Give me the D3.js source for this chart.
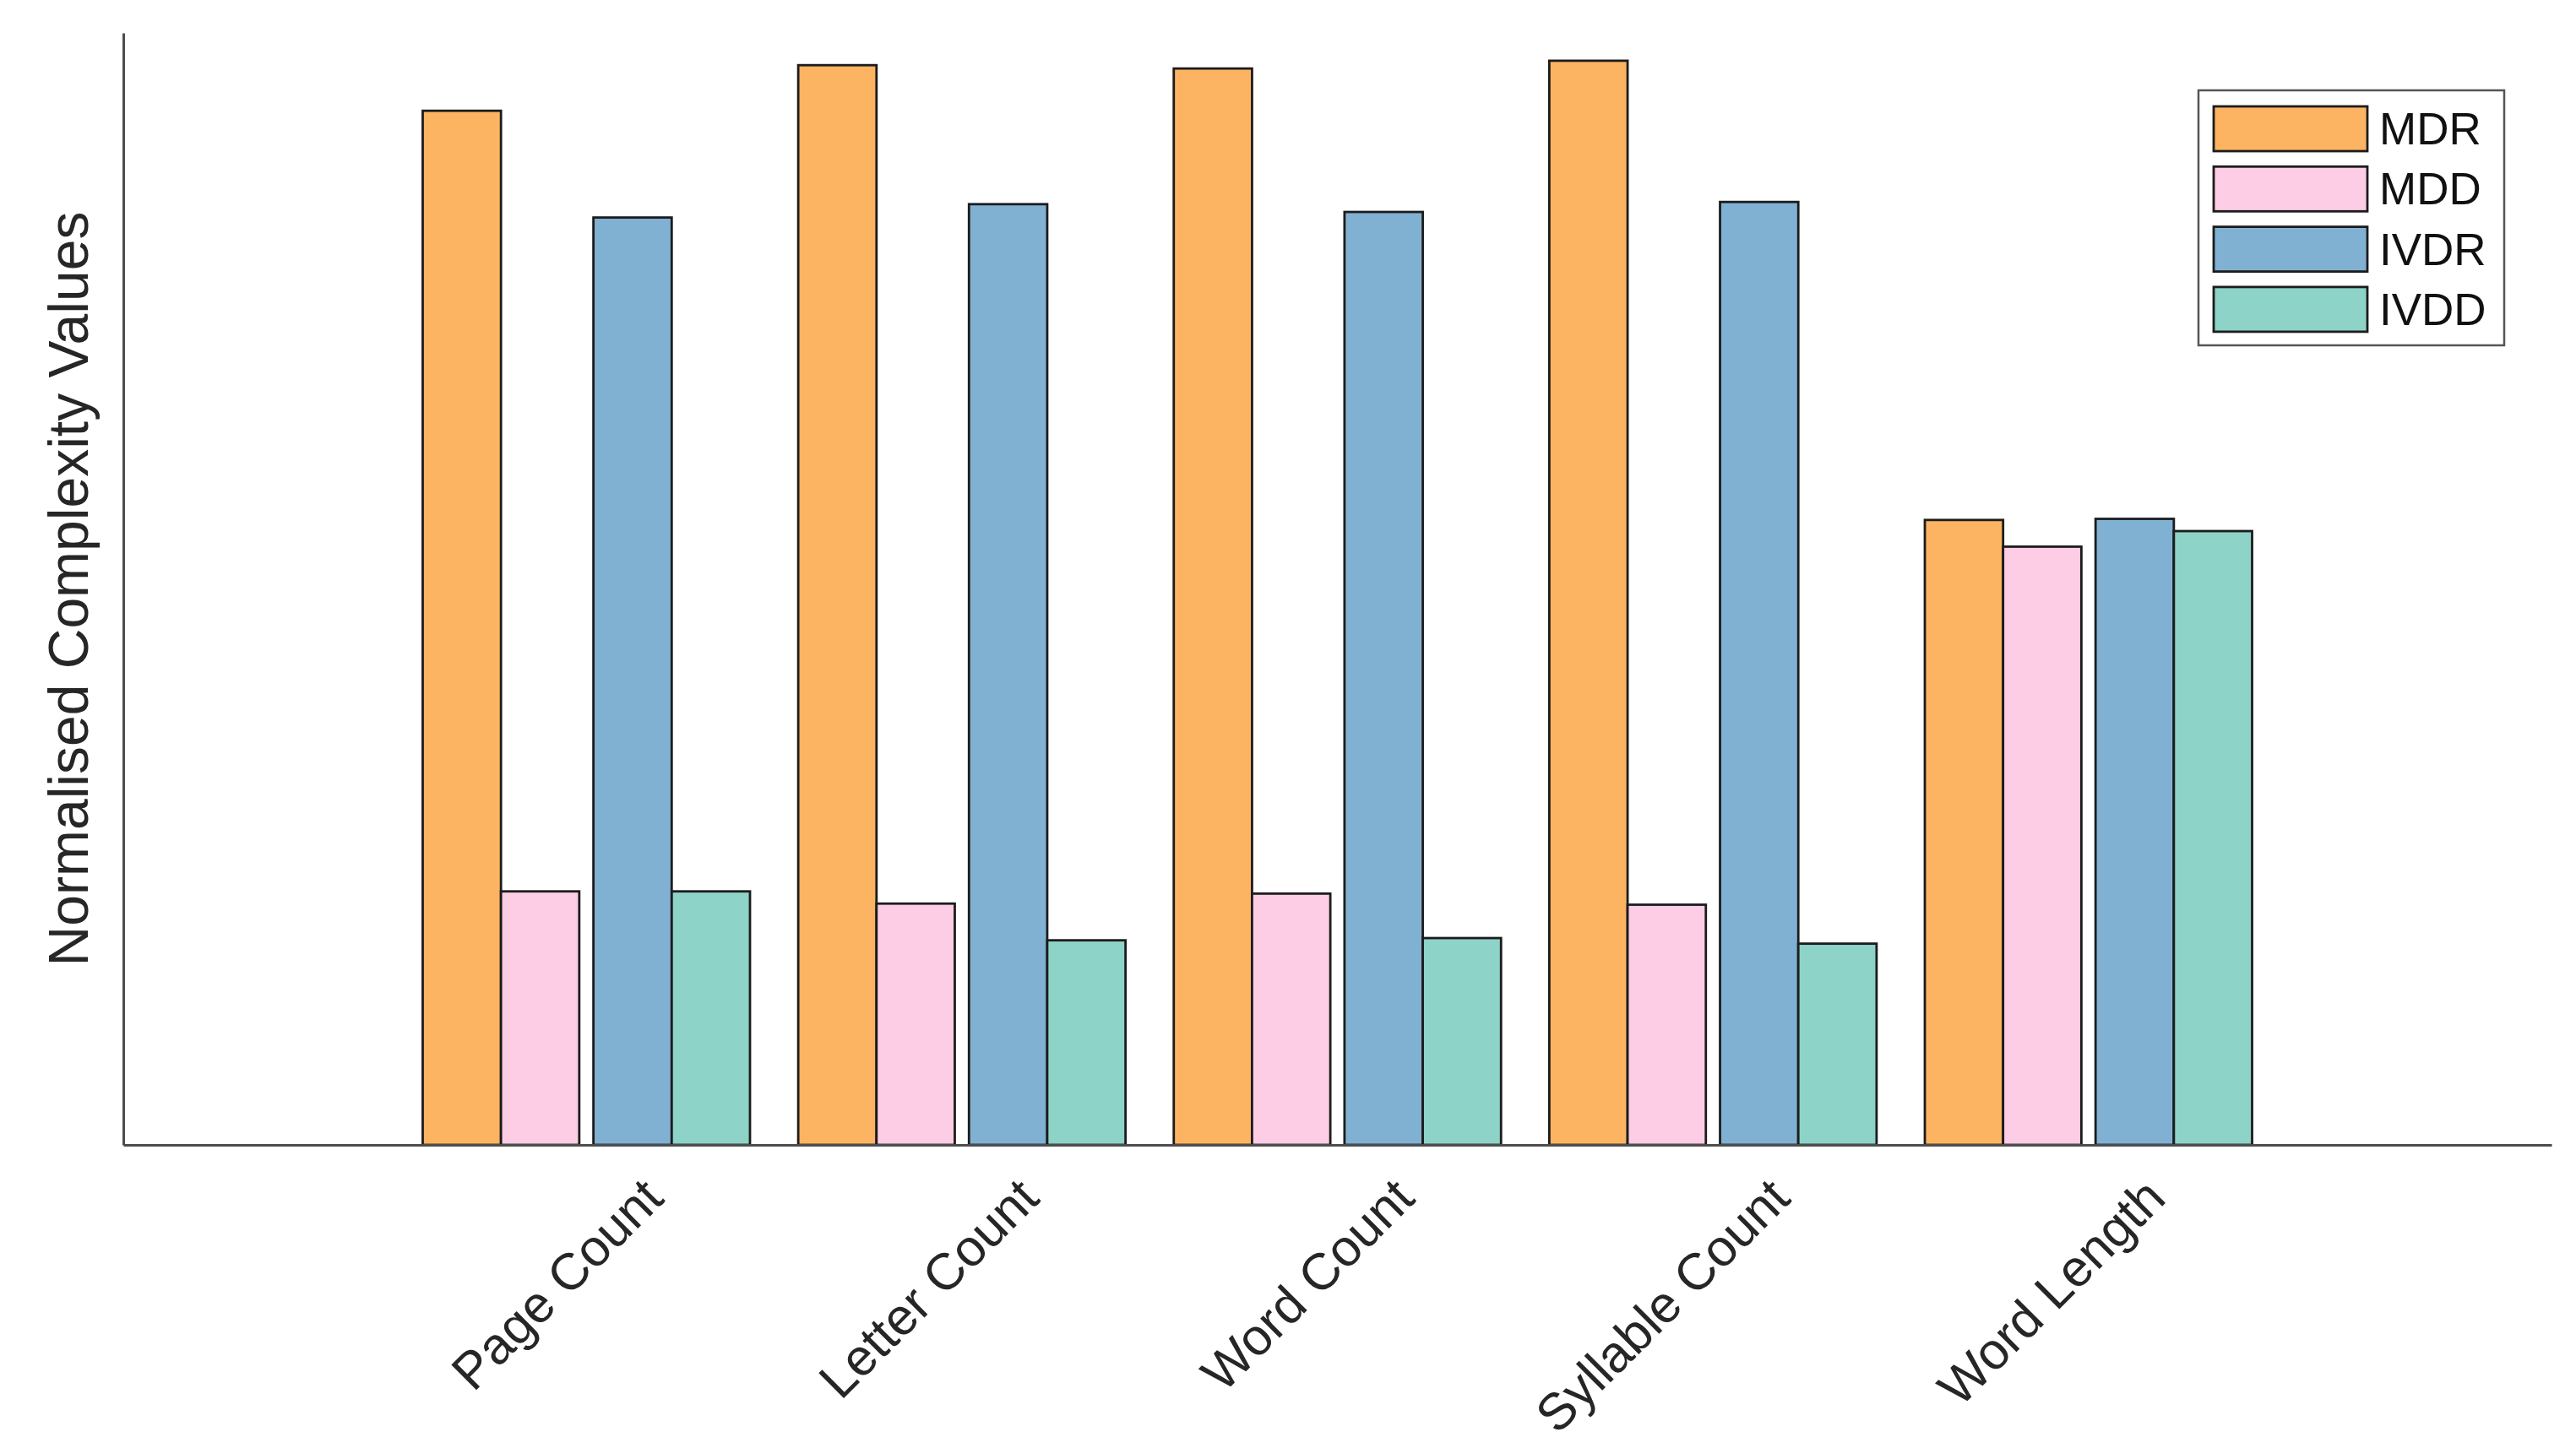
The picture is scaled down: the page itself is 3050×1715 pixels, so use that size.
<!DOCTYPE html>
<html>
<head>
<meta charset="utf-8">
<script src="https://cdn.jsdelivr.net/npm/d3@7.9.0/dist/d3.min.js"></script>
<style>
  html, body { margin: 0; padding: 0; background: #fff; }
  svg { display: block; font-family: 'Liberation Sans', Arial, sans-serif; }
</style>
</head>
<body>
<div id="chart"></div>
<script>
const categories = ['Page Count', 'Letter Count', 'Word Count', 'Syllable Count', 'Word Length'];
const seriesNames = ['MDR', 'MDD', 'IVDR', 'IVDD'];
const seriesColors = ['#fdb462', '#fccde5', '#80b1d3', '#8dd3c7'];

// values, axis top = 1
const mdr = [0.930, 0.971, 0.968, 0.975, 0.562];
const mdd = [0.228, 0.217, 0.226, 0.216, 0.538];
const ivdr = [0.834, 0.846, 0.839, 0.848, 0.563];
const ivdd = [0.228, 0.184, 0.186, 0.181, 0.552];

const values = [mdr, mdd, ivdr, ivdd];
// bars come in two touching pairs inside each group
const pairOf = ['M', 'M', 'IV', 'IV'];
const sideOf = ['R', 'D', 'R', 'D'];

const width = 3050;
const height = 1715;
const plot = { left: 146, right: 3021, top: 39, bottom: 1356 };

const rows = [];
categories.forEach((cat, ci) => {
  seriesNames.forEach((name, si) => {
    rows.push({ cat, name, si, value: values[si][ci] });
  });
});

const x = d3.scalePoint().domain(categories).range([plot.left, plot.right]).padding(1.233);
const y = d3.scaleLinear().domain([0, 1]).range([plot.bottom, plot.top]);

const groupWidth = 387.5;
const xPair = d3.scaleBand().domain(['M', 'IV']).range([-groupWidth / 2, groupWidth / 2]).paddingInner(0.083);
const xSide = d3.scaleBand().domain(['R', 'D']).range([0, xPair.bandwidth()]);

const svg = d3.select('#chart')
  .append('svg')
  .attr('width', width)
  .attr('height', height)
  .attr('viewBox', `0 0 ${width} ${height}`);

svg.append('g')
  .selectAll('rect')
  .data(rows)
  .join('rect')
  .attr('x', (d) => x(d.cat) + xPair(pairOf[d.si]) + xSide(sideOf[d.si]))
  .attr('y', (d) => y(d.value))
  .attr('width', xSide.bandwidth())
  .attr('height', (d) => y(0) - y(d.value))
  .attr('fill', (d) => seriesColors[d.si])
  .attr('stroke', '#1c1c1c')
  .attr('stroke-width', 2.8);

// axes without ticks
svg.append('g')
  .attr('transform', `translate(0, ${plot.bottom})`)
  .call(d3.axisBottom(d3.scaleLinear().range([plot.left, plot.right])).ticks(0).tickSizeOuter(0))
  .call((g) => g.select('.domain').attr('stroke', '#4d4d4d').attr('stroke-width', 3));

svg.append('g')
  .attr('transform', `translate(${plot.left}, 0)`)
  .call(d3.axisLeft(y).ticks(0).tickSizeOuter(0))
  .call((g) => g.select('.domain').attr('stroke', '#4d4d4d').attr('stroke-width', 3));

// category labels, rotated
svg.append('g')
  .selectAll('text')
  .data(categories)
  .join('text')
  .attr('transform', (d) => `translate(${x(d) + 94}, ${plot.bottom + 66}) rotate(-45)`)
  .attr('text-anchor', 'end')
  .attr('font-size', 61)
  .attr('fill', '#262626')
  .text((d) => d);

svg.append('text')
  .attr('transform', `translate(104, ${(plot.top + plot.bottom) / 2}) rotate(-90)`)
  .attr('text-anchor', 'middle')
  .attr('font-size', 66)
  .attr('fill', '#262626')
  .text('Normalised Complexity Values');

// legend
const legend = svg.append('g').attr('transform', 'translate(2603, 107)');
legend.append('rect')
  .attr('width', 362)
  .attr('height', 302)
  .attr('fill', '#fff')
  .attr('stroke', '#555')
  .attr('stroke-width', 2.5);

const items = legend.selectAll('g.item')
  .data(seriesNames)
  .join('g')
  .attr('class', 'item')
  .attr('transform', (d, i) => `translate(18, ${19 + i * 71.3})`);

items.append('rect')
  .attr('width', 182)
  .attr('height', 53)
  .attr('fill', (d, i) => seriesColors[i])
  .attr('stroke', '#1c1c1c')
  .attr('stroke-width', 2.8);

items.append('text')
  .attr('x', 196)
  .attr('y', 45)
  .attr('font-size', 53)
  .attr('fill', '#111')
  .text((d) => d);
</script>
</body>
</html>
